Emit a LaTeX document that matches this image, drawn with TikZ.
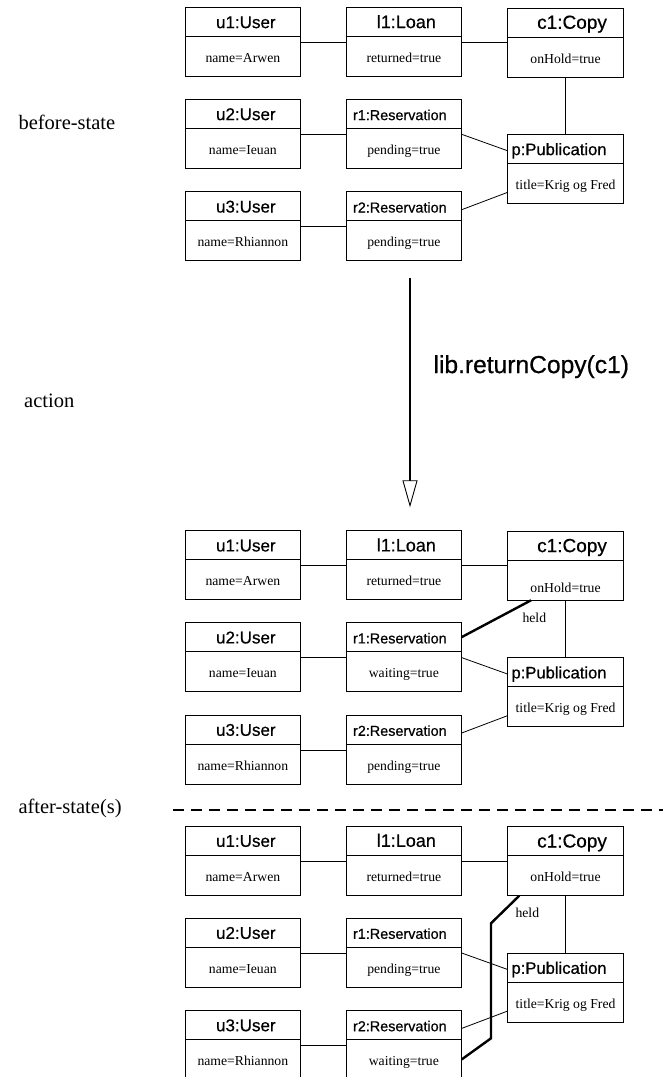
\documentclass[tikz,border=0pt]{standalone}
\usepackage{fontspec}
\setmainfont{Liberation Serif}
\setsansfont{Liberation Sans}[FakeBold=0.6]
\usetikzlibrary{positioning,arrows.meta}
\newcommand{\hf}[1]{\fontsize{#1}{#1}\selectfont}
% one snapshot of the library objects
\newcommand{\libstate}[4]{%
    \node[objhead] (#1-u1) at (185,7.3) {\hf{17}\hspace*{6pt}u1:User};
    \node[objbody, below=0pt of #1-u1] (#1-u1-v) {name=Arwen};
    \node[objhead] (#1-l1) at (346,7.3) {\hf{18}\hspace*{5pt}l1:Loan};
    \node[objbody, below=0pt of #1-l1] (#1-l1-v) {returned=true};
    \node[objhead] (#1-c1) at (507.7,8) {\hf{19}\hspace*{13pt}c1:Copy};
    \node[objbody, below=0pt of #1-c1] (#1-c1-v) {#4};
    \node[objhead] (#1-u2) at (185,99.3) {\hf{17}\hspace*{6pt}u2:User};
    \node[objbody, below=0pt of #1-u2] (#1-u2-v) {name=Ieuan};
    \node[objhead] (#1-r1) at (346,99.3) {\hf{14.4}r1:Reservation\hspace*{8pt}};
    \node[objbody, below=0pt of #1-r1] (#1-r1-v) {#2};
    \node[objhead] (#1-p) at (507.7,134.3) {\hf{16.6}p:Publication\hspace*{13pt}};
    \node[objbody, below=0pt of #1-p] (#1-p-v) {title=Krig og Fred};
    \node[objhead] (#1-u3) at (185,191.7) {\hf{17}\hspace*{6pt}u3:User};
    \node[objbody, below=0pt of #1-u3] (#1-u3-v) {name=Rhiannon};
    \node[objhead] (#1-r2) at (346,191.7) {\hf{14.4}r2:Reservation\hspace*{8pt}};
    \node[objbody, below=0pt of #1-r2] (#1-r2-v) {#3};

    \draw[link] ([yshift=-6pt]#1-u1.south east) -- ([yshift=-6pt]#1-l1.south west);
    \draw[link] ([yshift=-6pt]#1-l1.south east) -- ([yshift=-6pt]#1-l1.south east -| #1-c1.west);
    \draw[link] (#1-c1-v.south) -- (#1-p.north);
    \draw[link] ([yshift=-6pt]#1-u2.south east) -- ([yshift=-6pt]#1-r1.south west);
    \draw[link] ([yshift=-6pt]#1-r1.south east) -- ([yshift=-2pt]#1-p.west);
    \draw[link] ([yshift=-6pt]#1-u3.south east) -- ([yshift=-6pt]#1-r2.south west);
    \draw[link] ([yshift=-3.5pt]#1-r2.east) -- ([yshift=11pt]#1-p-v.south west);
}

\begin{document}
\begin{tikzpicture}[x=1pt, y=-1pt,
    objhead/.style={draw, line width=1pt, inner sep=0pt, outer sep=0pt, minimum width=115.7pt, minimum height=29pt, anchor=north west, font=\sffamily, text height=12.6pt, text depth=0pt},
    objbody/.style={draw, line width=1pt, inner sep=0pt, outer sep=0pt, minimum width=115.7pt, minimum height=40pt, font=\hf{13.7}, text height=12pt, text depth=0pt},
    link/.style={line width=0.8pt},
    heldlink/.style={line width=2.4pt},
    role/.style={font=\hf{13.7}, inner sep=0pt},
    phase/.style={font=\hf{20.5}, anchor=west, inner sep=0pt},
    transit/.style={line width=2pt, -{Triangle[open, length=27pt, width=15pt, line width=0.9pt]}},
    statesep/.style={line width=2pt, dash pattern=on 11pt off 7pt}]
    \useasboundingbox (0,0) rectangle (663,1077);

    \node[phase] (before) at (18.3,122.7) {before-state};
    \node[phase] (action) at (24,401) {action};
    \node[phase] (after) at (18.3,808) {after-state(s)};

    \begin{scope}[yshift=0]
        \libstate{A}{pending=true}{pending=true}{onHold=true}
    \end{scope}

    \coordinate (pre) at (410,278.3);
    \coordinate (post) at (410,507.3);
    \draw[transit] (pre) -- (post);
    \node[anchor=west, font=\sffamily\hf{24.6}, inner sep=0pt] (call) at (433.3,366.7) {lib.returnCopy(c1)};

    \begin{scope}[yshift=-523.3]
        \libstate{B}{waiting=true}{pending=true}{\raisebox{-6pt}{onHold=true}}
        \draw[heldlink] (B-r1.east) -- ([xshift=23.3pt]B-c1-v.south west);
        \node[role] (B-held) at (534.3,95) {held};
    \end{scope}

    \draw[statesep] (173.3,810) -- (663,810); % trennlinie

    \begin{scope}[yshift=-818.7]
        \libstate{C}{pending=true}{waiting=true}{onHold=true}
        \draw[heldlink] (C-r2-v.east) -- (491,219.6) -- (491,104.6) -- ([xshift=11.6pt]C-c1-v.south west);
        \node[role] (C-held) at (527.3,94) {held};
    \end{scope}
\end{tikzpicture}
\end{document}
